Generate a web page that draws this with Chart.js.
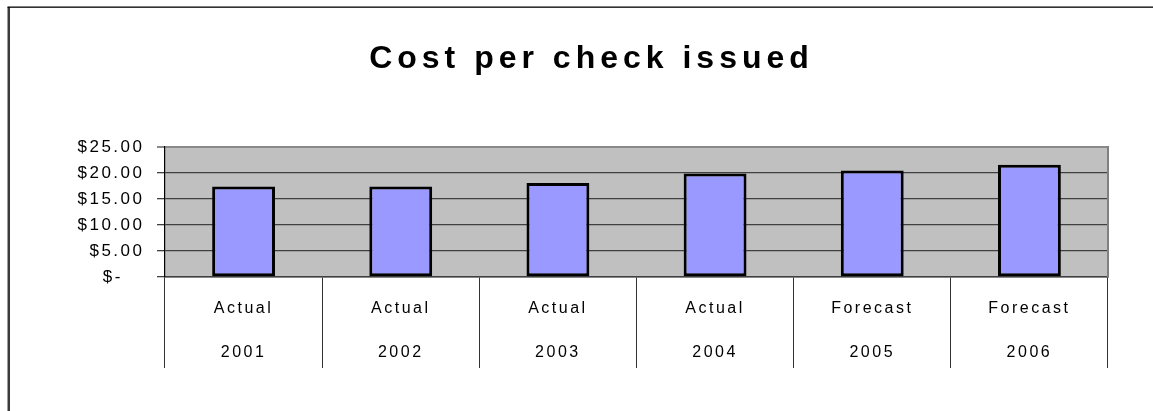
<!DOCTYPE html>
<html>
<head>
<meta charset="utf-8">
<title>Cost per check issued</title>
<script src="https://cdn.jsdelivr.net/npm/chart.js@4/dist/chart.umd.min.js"></script>
<style>
  html, body { margin: 0; padding: 0; background: #ffffff; }
  #wrap { position: relative; width: 1153px; height: 411px; }
</style>
</head>
<body>
<div id="wrap"><canvas id="chart" width="1153" height="411"></canvas></div>
<script>
// Chart data
const titleText = 'Cost per check issued';
const phases = ['Actual', 'Actual', 'Actual', 'Actual', 'Forecast', 'Forecast'];
const years = ['2001', '2002', '2003', '2004', '2005', '2006'];
const costPerCheck = [17.4, 17.4, 18.1, 19.9, 20.5, 21.6];
const yTicks = [0, 5, 10, 15, 20, 25];

// Two-line category labels: phase above year
const categoryLabels = phases.map((p, i) => [p, years[i]]);

// Frame, plot background, plot edges and letter spacing of the texts
const decor = {
  id: 'decor',
  beforeDraw(chart) {
    const { ctx, chartArea: a, width, height } = chart;
    ctx.save();
    ctx.fillStyle = '#ffffff';
    ctx.fillRect(0, 0, width, height);
    // outer frame (left and top)
    ctx.fillStyle = '#3a3a3a';
    ctx.fillRect(7.5, 7, 2.5, height - 7);
    ctx.fillStyle = '#000000';
    ctx.fillRect(7.5, 6.5, width - 7.5, 1.3);
    // plot background
    ctx.fillStyle = '#c0c0c0';
    ctx.fillRect(a.left, a.top, a.right - a.left, a.bottom - a.top);
    ctx.restore();
    ctx.letterSpacing = '5px';
  },
  afterDatasetsDraw(chart) {
    chart.ctx.letterSpacing = '2.5px';
  },
  afterDraw(chart) {
    const { ctx, chartArea: a } = chart;
    ctx.letterSpacing = '0px';
    ctx.save();
    ctx.strokeStyle = '#808080';
    ctx.lineWidth = 2;
    ctx.beginPath();
    ctx.moveTo(a.right, a.top - 1);
    ctx.lineTo(a.right, a.bottom);
    ctx.stroke();
    ctx.restore();
  }
};

Chart.defaults.font.family = '"Liberation Sans", Arial, sans-serif';
Chart.defaults.color = '#000000';

new Chart(document.getElementById('chart'), {
  type: 'bar',
  data: {
    labels: categoryLabels,
    datasets: [{
      data: costPerCheck,
      backgroundColor: '#9999ff',
      borderColor: '#000000',
      borderWidth: 3,
      borderSkipped: false,
      barPercentage: 0.4,
      categoryPercentage: 1.0
    }]
  },
  options: {
    responsive: false,
    animation: false,
    devicePixelRatio: 1,
    layout: { padding: { left: 75, right: 45, top: 0, bottom: 0 } },
    plugins: {
      legend: { display: false },
      tooltip: { enabled: false },
      title: {
        display: true,
        text: titleText,
        color: '#000000',
        font: { size: 32, weight: 'bold', lineHeight: 1.2 },
        padding: { top: 40.3, bottom: 68.3 }
      }
    },
    scales: {
      x: {
        offset: true,
        grid: {
          offset: true,
          drawOnChartArea: false,
          drawTicks: true,
          tickLength: 91,
          color: '#333333',
          lineWidth: 1
        },
        border: { display: true, color: '#404040', width: 1.5 },
        ticks: {
          z: 1,
          autoSkip: false,
          maxRotation: 0,
          minRotation: 0,
          padding: -81,
          color: '#000000',
          font: { size: 16, lineHeight: 2.75 }
        },
        afterFit(scale) { scale.height = 134; }
      },
      y: {
        min: 0,
        max: 25,
        afterBuildTicks(scale) { scale.ticks = yTicks.map(v => ({ value: v })); },
        grid: {
          drawTicks: true,
          tickLength: 8,
          color: ctx => (ctx.tick && ctx.tick.value === 25 ? '#8a8a8a' : '#404040'),
          lineWidth: ctx => (ctx.tick && ctx.tick.value === 25 ? 2 : 1.3)
        },
        border: { display: true, color: '#000000', width: 1.2 },
        ticks: {
          z: 1,
          padding: 12.5,
          color: '#000000',
          font: { size: 17 },
          callback: v => (v === 0 ? '$-   ' : '$' + Number(v).toFixed(2))
        },
        afterFit(scale) { scale.width = 90; }
      }
    }
  },
  plugins: [decor]
});
</script>
</body>
</html>
